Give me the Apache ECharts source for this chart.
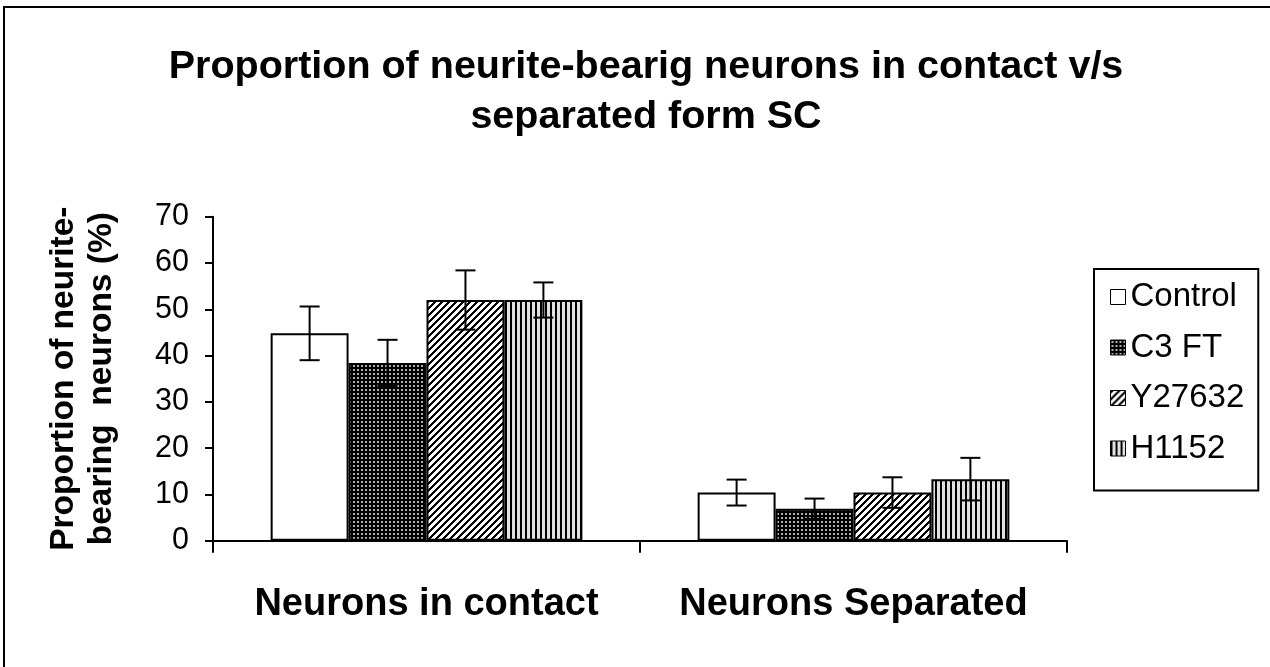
<!DOCTYPE html>
<html><head><meta charset="utf-8">
<script src="https://cdn.jsdelivr.net/npm/echarts@6/dist/echarts.min.js"></script>
<style>html,body{margin:0;padding:0;background:#fff}#c{width:1270px;height:667px}</style>
</head><body><div id="c"></div>
<script>
const titleText = 'Proportion of neurite-bearig neurons in contact v/s\nseparated form SC';
const yAxisName = 'Proportion of neurite-\nbearing  neurons (%)';
const categories = ['Neurons in contact', 'Neurons Separated'];
const seriesNames = ['Control', 'C3 FT', 'Y27632', 'H1152'];
const controlValues = [44.8, 10.4];
const c3ftValues = [38.4, 6.9];
const y27632Values = [52.0, 10.4];
const h1152Values = [52.0, 13.3];
const controlErr = [5.8, 2.8];
const c3ftErr = [5.0, 2.2];
const y27632Err = [6.4, 3.3];
const h1152Err = [3.8, 4.6];
const yMin = 0, yMax = 70, yStep = 10;

const FONT = '"Liberation Sans", Arial, sans-serif';

function makeTile(w, h, fn) {
  const cv = document.createElement('canvas');
  cv.width = w; cv.height = h;
  const ctx = cv.getContext('2d');
  const img = ctx.createImageData(w, h);
  for (let y = 0; y < h; y++) for (let x = 0; x < w; x++) {
    const v = fn(x, y); const i = (y * w + x) * 4;
    img.data[i] = v; img.data[i + 1] = v; img.data[i + 2] = v; img.data[i + 3] = 255;
  }
  ctx.putImageData(img, 0, 0);
  return cv;
}
const dotTile = makeTile(4, 4, (x, y) => (x >= 1 && x <= 2 && y >= 1 && y <= 2) ? 175 : 0);
const diagTile = makeTile(7, 7, (x, y) => ((((x + y) % 7) + 7) % 7 < 3) ? 0 : 255);
const vertTile = makeTile(5, 5, (x, y) => x < 2 ? 0 : 225);

const fills = [
  '#ffffff',
  { image: dotTile, repeat: 'repeat' },
  { image: diagTile, repeat: 'repeat' },
  { image: vertTile, repeat: 'repeat' }
];
const groups = [controlValues, c3ftValues, y27632Values, h1152Values];
const errs = [controlErr, c3ftErr, y27632Err, h1152Err];
const CAT_GAP = 0.27;

const errData = [];
groups.forEach((vals, s) => vals.forEach((v, c) => errData.push([c, v - errs[s][c], v + errs[s][c], s])));

const barSeries = seriesNames.map((name, s) => ({
  name: name,
  type: 'bar',
  data: groups[s],
  barGap: '0%',
  barCategoryGap: (CAT_GAP * 100) + '%',
  itemStyle: { color: fills[s], borderColor: '#000', borderWidth: 2 },
  emphasis: { disabled: true },
  animation: false
}));

const chart = echarts.init(document.getElementById('c'), null, { renderer: 'canvas' });
chart.setOption({
  backgroundColor: '#fff',
  animation: false,
  title: {
    text: titleText,
    left: 641, top: 37, textAlign: 'center',
    textStyle: { fontFamily: FONT, fontSize: 39.5, fontWeight: 'bold', color: '#000', lineHeight: 50 }
  },
  grid: { left: 213, right: 203, top: 216.7, bottom: 126.3, containLabel: false },
  legend: {
    orient: 'vertical',
    left: 1094, top: 269,
    data: seriesNames,
    icon: 'rect',
    itemWidth: 15, itemHeight: 15,
    itemGap: 16.5,
    itemTextGap: 14,
    itemStyle: { borderWidth: 1 },
    padding: [11, 14, 25, 16],
    borderColor: '#000', borderWidth: 2,
    textStyle: { fontFamily: FONT, fontSize: 33, color: '#000', lineHeight: 34, padding: [0, 0, 0, 0] },
    selectedMode: false
  },
  graphic: [{
    type: 'rect', shape: { x: 4, y: 7, width: 1280, height: 680 },
    style: { fill: null, stroke: '#000', lineWidth: 2 }, silent: true, z: 100
  }],
  xAxis: {
    type: 'category',
    data: categories,
    axisLine: { lineStyle: { color: '#000', width: 2 } },
    axisTick: { show: true, length: 12, lineStyle: { color: '#000', width: 2 } },
    axisLabel: { interval: 0, hideOverlap: false, fontFamily: FONT, fontSize: 38, fontWeight: 'bold', color: '#000', margin: 45 },
    splitLine: { show: false }
  },
  yAxis: {
    type: 'value',
    min: yMin, max: yMax, interval: yStep,
    name: yAxisName,
    nameLocation: 'middle',
    nameRotate: 90,
    nameGap: 92,
    nameTextStyle: { fontFamily: FONT, fontSize: 33.5, fontWeight: 'bold', color: '#000', lineHeight: 38 },
    axisLine: { show: true, lineStyle: { color: '#000', width: 2 } },
    axisTick: { show: true, length: 8, lineStyle: { color: '#000', width: 2 } },
    axisLabel: { fontFamily: FONT, fontSize: 30.5, color: '#000', margin: 24 },
    splitLine: { show: false }
  },
  series: barSeries.concat([{
    type: 'custom',
    name: 'errors',
    data: errData,
    encode: { x: 0, y: [1, 2] },
    z: 10,
    silent: true,
    renderItem: function (params, api) {
      const c = api.value(0), lo = api.value(1), hi = api.value(2), s = api.value(3);
      const catW = api.size([1, 0])[0];
      const barW = catW * (1 - CAT_GAP) / 4;
      const off = -catW * (1 - CAT_GAP) / 2 + barW * (s + 0.5);
      const pHi = api.coord([c, hi]);
      const pLo = api.coord([c, lo]);
      const x = pHi[0] + off;
      const hw = 10;
      const st = { stroke: '#000', lineWidth: 2 };
      return {
        type: 'group', children: [
          { type: 'line', shape: { x1: x, y1: pHi[1], x2: x, y2: pLo[1] }, style: st },
          { type: 'line', shape: { x1: x - hw, y1: pHi[1], x2: x + hw, y2: pHi[1] }, style: st },
          { type: 'line', shape: { x1: x - hw, y1: pLo[1], x2: x + hw, y2: pLo[1] }, style: st }
        ]
      };
    }
  }])
});
</script>
</body></html>
